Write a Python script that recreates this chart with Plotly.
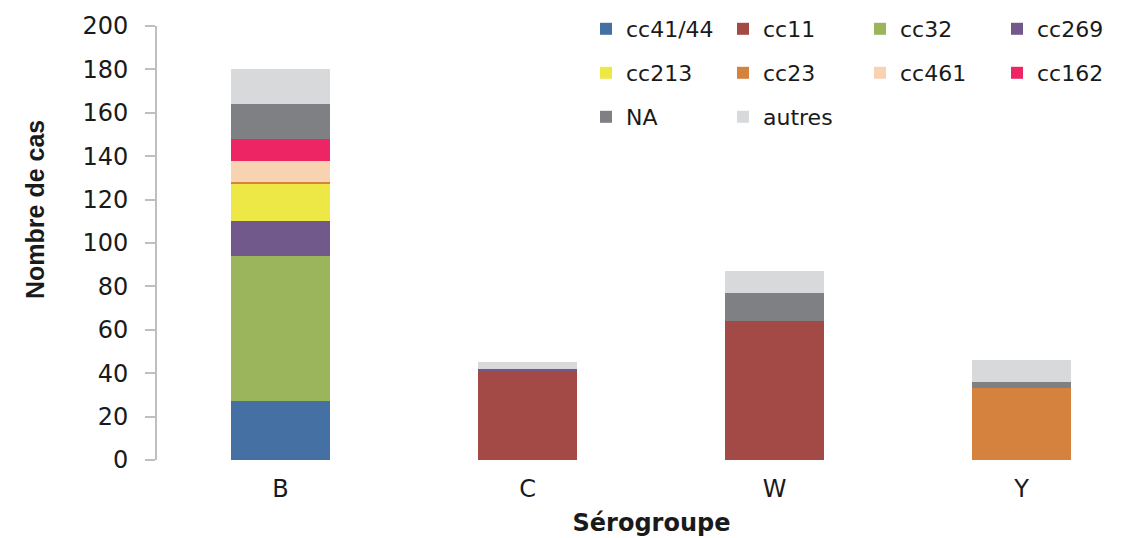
import plotly.graph_objects as go

categories = ["B", "C", "W", "Y"]
series_names = ["cc41/44", "cc11", "cc32", "cc269", "cc213", "cc23", "cc461", "cc162", "NA", "autres"]
cc41_44 = [27, 0, 0, 0]
cc11 = [0, 41, 64, 0]
cc32 = [67, 0, 0, 0]
cc269 = [16, 1, 0, 0]
cc213 = [17, 0, 0, 0]
cc23 = [1, 0, 0, 33]
cc461 = [10, 0, 0, 0]
cc162 = [10, 0, 0, 0]
NA = [16, 0, 13, 3]
autres = [16, 3, 10, 10]
y_ticks = [0, 20, 40, 60, 80, 100, 120, 140, 160, 180, 200]

series_values = [cc41_44, cc11, cc32, cc269, cc213, cc23, cc461, cc162, NA, autres]
colors = ["#4570A4", "#A34A47", "#9AB55C", "#715A8B", "#EEE847", "#D6823F",
          "#F8D3B2", "#EE2564", "#7F8083", "#D8D9DB"]
legend_ids = ["legend", "legend", "legend", "legend",
              "legend2", "legend2", "legend2", "legend2",
              "legend3", "legend3"]

fig = go.Figure()
for name, vals, col, lg in zip(series_names, series_values, colors, legend_ids):
    fig.add_trace(go.Bar(
        x=categories,
        y=[v if v else None for v in vals],
        name=name,
        marker=dict(color=col, line=dict(width=0)),
        width=0.4,
        legend=lg,
    ))

# page body has an 8px margin; positions below are in figure pixels
OFF = 8
W, H = 1138, 538
L, R, T, B = 157 - OFF, 0, 26 - OFF, 538 - (460 - OFF)
plot_h = H - T - B
plot_w = W - L - R

def ypaper(px):
    return (H - B - (px - OFF)) / plot_h

def xpaper(px):
    return ((px - OFF) - L) / plot_w

leg_x = xpaper(586)
leg_font = dict(family="DejaVu Sans", size=22, color="#1a1a1a")
common_leg = dict(orientation="h", x=leg_x, xanchor="left", yanchor="middle",
                  entrywidth=92, entrywidthmode="pixels", itemwidth=30,
                  font=leg_font, bgcolor="rgba(0,0,0,0)", traceorder="normal",
                  itemclick=False, itemdoubleclick=False)

fig.update_layout(
    width=W, height=H,
    barmode="stack",
    plot_bgcolor="white", paper_bgcolor="white",
    margin=dict(l=L, r=R, t=T, b=B, autoexpand=False),
    legend=dict(y=ypaper(29), **common_leg),
    legend2=dict(y=ypaper(73), **common_leg),
    legend3=dict(y=ypaper(117), **common_leg),
    xaxis=dict(
        range=[-0.5, -0.5 + plot_w / 247.0],
        showline=False, showgrid=False, ticks="",
        tickfont=dict(family="DejaVu Sans", size=24, color="#1a1a1a"),
        ticklabelstandoff=12,
        title=dict(text="<b>Sérogroupe</b>",
                   font=dict(family="DejaVu Sans", size=24, color="#1a1a1a"),
                   standoff=12),
    ),
    yaxis=dict(
        range=[0, 200], tickvals=y_ticks,
        showline=True, linecolor="#BFBFBF", linewidth=2,
        ticks="outside", ticklen=10, tickwidth=2, tickcolor="#BFBFBF",
        showgrid=False, zeroline=False,
        tickfont=dict(family="DejaVu Sans", size=24, color="#1a1a1a"),
        ticklabelstandoff=12,
    ),
    annotations=[dict(
        text="<b>Nombre de cas</b>", textangle=-90,
        x=xpaper(35), y=ypaper(210), xref="paper", yref="paper",
        xanchor="center", yanchor="middle",
        showarrow=False,
        font=dict(family="Liberation Sans", size=25, color="#1a1a1a"),
    )],
)

fig.write_html("out.html")
